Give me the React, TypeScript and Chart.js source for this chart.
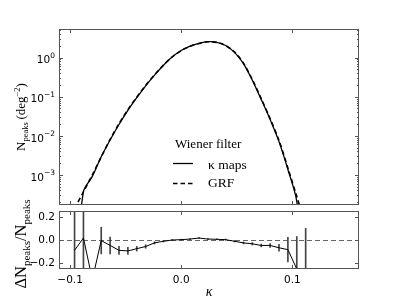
import React, { useEffect, useRef } from "react";
import { Chart, registerables } from "chart.js";
Chart.register(...registerables);

// ---- data ----
const kappa = [
  -0.096, -0.088, -0.08, -0.072, -0.064, -0.056, -0.048, -0.04, -0.032, -0.024,
  -0.016, -0.008, 0.0, 0.008, 0.016, 0.024, 0.032, 0.04, 0.048, 0.056, 0.064,
  0.072, 0.08, 0.088, 0.096, 0.104, 0.112,
];
const nKappaMaps = [
  2e-6, 3.75e-4, 9.2e-4, 2.9e-3, 7.8e-3, 0.0195, 0.045, 0.0945, 0.19, 0.356,
  0.64, 1.047, 1.518, 1.965, 2.33, 2.56, 2.47, 2.05, 1.36, 0.705, 0.265, 0.085,
  0.0262, 7.1e-3, 1.38e-3, 2.1e-4, 1e-6,
];
const nGRF = [
  1.38e-4, 3.7e-4, 1.0e-3, 2.9e-3, 8.1e-3, 0.0204, 0.0468, 0.0977, 0.195, 0.363,
  0.646, 1.047, 1.514, 1.95, 2.29, 2.54, 2.45, 2.04, 1.38, 0.724, 0.275, 0.0891,
  0.0275, 7.6e-3, 1.51e-3, 2.8e-4, 5e-5,
];
const residual = [
  -0.089, 0.017, -0.34, -0.005, -0.047, -0.089, -0.094, -0.075, -0.056, -0.025,
  -0.011, 0.0, 0.003, 0.008, 0.017, 0.008, 0.006, 0.003, -0.011, -0.025, -0.033,
  -0.047, -0.047, -0.067, -0.083, -0.25, -1.0,
];
const residualErr = [
  0.6, 0.5, 0, 0.115, 0.072, 0.035, 0.03, 0.02, 0.015, 0.01, 0.006, 0.005, 0.004,
  0.004, 0.004, 0.004, 0.004, 0.005, 0.006, 0.008, 0.01, 0.012, 0.017, 0.03,
  0.107, 0.28, 1.1,
];
const xTicks = [-0.1, 0.0, 0.1];
const xTickLabels = ["\u22120.1", "0.0", "0.1"];
const logTickExps = [0, -1, -2, -3];
const logTickExpLabels = ["0", "\u22121", "\u22122", "\u22123"];
const resTicks = [0.2, 0.0, -0.2];
const resTickLabels = ["0.2", "0.0", "\u22120.2"];
const legendTitle = "Wiener filter";
const seriesNames = ["\u03ba maps", "GRF"];

const X_MIN = -0.11;
const X_MAX = 0.16;
const Y_MIN = 1.7e-4;
const Y_MAX = 5.4;
const R_MIN = -0.25;
const R_MAX = 0.25;

const FRAME = "#555555";
const SANS = "'DejaVu Sans', sans-serif";
const SERIF = "'Liberation Serif', serif";

type Seg = { t: string; font: string; dy: number };

function drawRich(ctx: CanvasRenderingContext2D, segs: Seg[], cx: number, cy: number, rot: number) {
  ctx.save();
  ctx.translate(cx, cy);
  ctx.rotate(rot);
  ctx.textBaseline = "alphabetic";
  ctx.textAlign = "left";
  ctx.fillStyle = "#000";
  let w = 0;
  for (const s of segs) {
    ctx.font = s.font;
    w += ctx.measureText(s.t).width;
  }
  let x = -w / 2;
  for (const s of segs) {
    ctx.font = s.font;
    ctx.fillText(s.t, x, s.dy);
    x += ctx.measureText(s.t).width;
  }
  ctx.restore();
}

function drawFrame(ctx: CanvasRenderingContext2D, a: any) {
  ctx.save();
  ctx.strokeStyle = FRAME;
  ctx.lineWidth = 1;
  ctx.strokeRect(a.left + 0.5, a.top + 0.5, a.right - a.left - 1, a.bottom - a.top - 1);
  ctx.restore();
}

function vTick(ctx: CanvasRenderingContext2D, x: number, y0: number, y1: number) {
  ctx.beginPath();
  ctx.moveTo(Math.round(x) + 0.5, y0);
  ctx.lineTo(Math.round(x) + 0.5, y1);
  ctx.stroke();
}
function hTick(ctx: CanvasRenderingContext2D, y: number, x0: number, x1: number) {
  ctx.beginPath();
  ctx.moveTo(x0, Math.round(y) + 0.5);
  ctx.lineTo(x1, Math.round(y) + 0.5);
  ctx.stroke();
}

const topPlugin = {
  id: "topDecor",
  afterDraw(chart: any) {
    const ctx = chart.ctx as CanvasRenderingContext2D;
    const a = chart.chartArea;
    const xs = chart.scales.x;
    const ys = chart.scales.y;
    drawFrame(ctx, a);
    ctx.save();
    ctx.strokeStyle = FRAME;
    ctx.lineWidth = 1;
    for (const t of xTicks) {
      const px = xs.getPixelForValue(t);
      vTick(ctx, px, a.bottom, a.bottom - 4);
      vTick(ctx, px, a.top, a.top + 4);
    }
    for (let e = -4; e <= 0; e++) {
      for (let k = 1; k <= 9; k++) {
        const v = k * Math.pow(10, e);
        if (v < Y_MIN || v > Y_MAX) continue;
        const py = ys.getPixelForValue(v);
        const len = k === 1 ? 4 : 2;
        hTick(ctx, py, a.left, a.left + len);
        hTick(ctx, py, a.right, a.right - len);
      }
    }
    ctx.restore();
    // y tick labels 10^e
    ctx.save();
    ctx.fillStyle = "#000";
    ctx.textBaseline = "middle";
    ctx.textAlign = "left";
    logTickExps.forEach((e, i) => {
      const py = ys.getPixelForValue(Math.pow(10, e));
      const sup = logTickExpLabels[i];
      ctx.font = `7.5px ${SANS}`;
      const ws = ctx.measureText(sup).width;
      ctx.font = `10.5px ${SANS}`;
      const wb = ctx.measureText("10").width;
      const right = a.left - 4;
      ctx.fillText("10", right - ws - wb, py + 3);
      ctx.font = `7.5px ${SANS}`;
      ctx.fillText(sup, right - ws, py - 2);
    });
    ctx.restore();
    // y title
    drawRich(
      ctx,
      [
        { t: "N", font: `13px ${SERIF}`, dy: 0 },
        { t: "peaks", font: `8.5px ${SERIF}`, dy: 3 },
        { t: "\u2009(deg", font: `13px ${SERIF}`, dy: 0 },
        { t: "\u22122", font: `8.5px ${SERIF}`, dy: -5 },
        { t: ")", font: `13px ${SERIF}`, dy: 0 },
      ],
      25,
      (a.top + a.bottom) / 2,
      -Math.PI / 2
    );
    // legend
    ctx.save();
    ctx.fillStyle = "#000";
    ctx.textBaseline = "middle";
    ctx.textAlign = "left";
    ctx.font = `13px ${SERIF}`;
    ctx.fillText(legendTitle, 175, 145);
    ctx.strokeStyle = "#000";
    ctx.lineWidth = 1.3;
    ctx.beginPath();
    ctx.moveTo(173, 163.5);
    ctx.lineTo(193, 163.5);
    ctx.stroke();
    ctx.setLineDash([4.5, 3]);
    ctx.lineWidth = 1.6;
    ctx.beginPath();
    ctx.moveTo(173, 183.5);
    ctx.lineTo(193, 183.5);
    ctx.stroke();
    ctx.setLineDash([]);
    ctx.font = `13.5px ${SERIF}`;
    ctx.fillText(seriesNames[0], 208, 165);
    ctx.fillText(seriesNames[1], 208, 183.5);
    ctx.restore();
  },
};

const bottomPlugin = {
  id: "bottomDecor",
  beforeDatasetsDraw(chart: any) {
    const ctx = chart.ctx as CanvasRenderingContext2D;
    const a = chart.chartArea;
    const ys = chart.scales.y;
    const py = Math.round(ys.getPixelForValue(0)) + 0.5;
    ctx.save();
    ctx.strokeStyle = "#666";
    ctx.lineWidth = 1;
    ctx.setLineDash([5, 3]);
    ctx.beginPath();
    ctx.moveTo(a.left, py);
    ctx.lineTo(a.right, py);
    ctx.stroke();
    ctx.restore();
  },
  afterDraw(chart: any) {
    const ctx = chart.ctx as CanvasRenderingContext2D;
    const a = chart.chartArea;
    const xs = chart.scales.x;
    const ys = chart.scales.y;
    drawFrame(ctx, a);
    ctx.save();
    ctx.strokeStyle = FRAME;
    ctx.lineWidth = 1;
    for (const t of xTicks) {
      const px = xs.getPixelForValue(t);
      vTick(ctx, px, a.bottom, a.bottom - 4);
      vTick(ctx, px, a.top, a.top + 4);
    }
    for (const t of resTicks) {
      const py = ys.getPixelForValue(t);
      hTick(ctx, py, a.left, a.left + 4);
      hTick(ctx, py, a.right, a.right - 4);
    }
    ctx.restore();
    ctx.save();
    ctx.fillStyle = "#000";
    ctx.font = `10.5px ${SANS}`;
    ctx.textBaseline = "middle";
    ctx.textAlign = "right";
    resTicks.forEach((t, i) => {
      ctx.fillText(resTickLabels[i], a.left - 4, ys.getPixelForValue(t));
    });
    ctx.textAlign = "center";
    ctx.textBaseline = "top";
    xTicks.forEach((t, i) => {
      ctx.fillText(xTickLabels[i], xs.getPixelForValue(t), a.bottom + 6);
    });
    ctx.font = `italic 14px ${SERIF}`;
    ctx.textBaseline = "middle";
    ctx.fillText("\u03ba", (a.left + a.right) / 2, 292);
    ctx.restore();
    drawRich(
      ctx,
      [
        { t: "\u0394N", font: `16.5px ${SERIF}`, dy: 0 },
        { t: "peaks", font: `11px ${SERIF}`, dy: 3.5 },
        { t: "/N", font: `16.5px ${SERIF}`, dy: 0 },
        { t: "peaks", font: `11px ${SERIF}`, dy: 3.5 },
      ],
      26,
      244,
      -Math.PI / 2
    );
  },
};

export default function App() {
  const topRef = useRef<HTMLCanvasElement>(null);
  const botRef = useRef<HTMLCanvasElement>(null);

  useEffect(() => {
    const topChart = new Chart(topRef.current as HTMLCanvasElement, {
      type: "line",
      data: {
        datasets: [
          {
            label: seriesNames[0],
            data: kappa.map((k, i) => ({ x: k, y: nKappaMaps[i] })),
            borderColor: "#000",
            borderWidth: 1.3,
            pointRadius: 0,
            tension: 0.3,
            fill: false,
          },
          {
            label: seriesNames[1],
            data: kappa.map((k, i) => ({ x: k, y: nGRF[i] })),
            borderColor: "#000",
            borderWidth: 1.6,
            borderDash: [4.5, 3],
            pointRadius: 0,
            tension: 0.3,
            fill: false,
          },
        ],
      },
      options: {
        responsive: false,
        animation: false,
        events: [],
        layout: { padding: { left: 59, top: 29, right: 40, bottom: 94 } },
        plugins: { legend: { display: false }, tooltip: { enabled: false }, title: { display: false } },
        scales: {
          x: { type: "linear", min: X_MIN, max: X_MAX, display: false },
          y: { type: "logarithmic", min: Y_MIN, max: Y_MAX, display: false },
        },
      },
      plugins: [topPlugin],
    } as any);

    const botChart = new Chart(botRef.current as HTMLCanvasElement, {
      type: "line",
      data: {
        datasets: [
          {
            type: "line",
            label: "residual",
            data: kappa.map((k, i) => ({ x: k, y: residual[i] })),
            borderColor: "#000",
            borderWidth: 1,
            pointRadius: 0,
            tension: 0,
            fill: false,
            order: 1,
          },
          {
            type: "bar",
            label: "error",
            data: kappa.map((k, i) =>
              residualErr[i] > 0 ? { x: k, y: [residual[i] - residualErr[i], residual[i] + residualErr[i]] } : { x: k, y: null }
            ),
            backgroundColor: "#444",
            borderWidth: 0,
            barThickness: 1,
            grouped: false,
            order: 2,
          },
        ],
      },
      options: {
        responsive: false,
        animation: false,
        events: [],
        layout: { padding: { left: 59, top: 211, right: 40, bottom: 30 } },
        plugins: { legend: { display: false }, tooltip: { enabled: false }, title: { display: false } },
        scales: {
          x: { type: "linear", min: X_MIN, max: X_MAX, display: false, offset: false },
          y: { type: "linear", min: R_MIN, max: R_MAX, display: false },
        },
      },
      plugins: [bottomPlugin],
    } as any);

    return () => {
      topChart.destroy();
      botChart.destroy();
    };
  }, []);

  const cs: React.CSSProperties = { position: "absolute", left: 0, top: 0, width: 399, height: 299 };
  return (
    <div style={{ position: "fixed", left: 0, top: 0, width: 399, height: 299, background: "#fff" }}>
      <canvas ref={topRef} width={399} height={299} style={cs} />
      <canvas ref={botRef} width={399} height={299} style={cs} />
    </div>
  );
}
